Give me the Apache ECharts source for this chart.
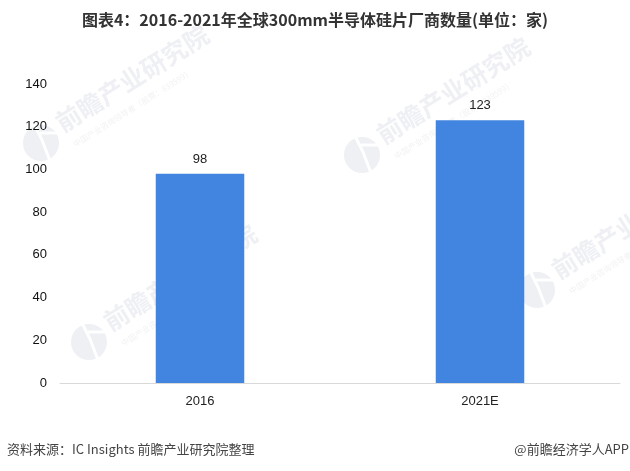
<!DOCTYPE html>
<html><head><meta charset="utf-8">
<style>html,body{margin:0;padding:0;background:#fff}#c{width:630px;height:471px}</style>
<script src="https://cdn.jsdelivr.net/npm/echarts@6/dist/echarts.min.js"></script></head>
<body><div id="c"></div>
<script>
const categories = ['2016','2021E'];
const values = [98,123];
const yTicks = {min:0,max:140,interval:20};
const titleText = '图表4：2016-2021年全球300mm半导体硅片厂商数量(单位：家)';
const sourceText = '资料来源：IC Insights 前瞻产业研究院整理';
const brandText = '@前瞻经济学人APP';
const wmMain = '前瞻产业研究院';
const wmSub = '中国产业咨询领导者（股票：839599）';
const wmCenters = [[89,342],[362,155],[41,143],[537,290]];
const rot = 0.56;
const cjk = '"Noto Sans CJK SC","Liberation Sans",sans-serif';
const latin = '"Liberation Sans",sans-serif';
function wm(p){
  const [x,y]=p;
  return [
   {type:'circle',z:0,shape:{cx:x,cy:y,r:18},style:{fill:'#eef0f4'}},
   {type:'polyline',z:0,shape:{points:[[x-7,y-19],[x+1,y-3],[x+9,y+18]]},style:{stroke:'#fff',lineWidth:3,fill:'none'}},
   {type:'line',z:0,shape:{x1:x-1,y1:y-10,x2:x+17,y2:y-10},style:{stroke:'#fff',lineWidth:3}},
   {type:'text',z:0,x:x+17,y:y-18,rotation:rot,style:{text:wmMain,font:'bold 25px '+cjk,fill:'#eef0f4',textAlign:'left',textVerticalAlign:'middle'}},
   {type:'text',z:0,x:x+33,y:y+2,rotation:rot,style:{text:wmSub,font:'8px '+cjk,fill:'#f1f2f5',textAlign:'left',textVerticalAlign:'middle'}}
  ];
}
const chart = echarts.init(document.getElementById('c'),null,{renderer:'canvas'});
chart.setOption({
  animation:false,
  backgroundColor:'#fff',
  title:{text:titleText,left:'center',top:7,textStyle:{fontFamily:cjk,fontSize:16,fontWeight:'bold',color:'#333'}},
  grid:{left:60,right:10,top:84,bottom:88},
  xAxis:{type:'category',data:categories,
    axisTick:{show:false},axisLine:{lineStyle:{color:'#d9d9d9',width:1}},
    axisLabel:{color:'#222',fontSize:13,fontFamily:latin,margin:12}},
  yAxis:{type:'value',min:yTicks.min,max:yTicks.max,interval:yTicks.interval,
    axisLine:{show:false},axisTick:{show:false},splitLine:{show:false},
    axisLabel:{color:'#111',fontSize:13,fontFamily:latin,margin:13}},
  series:[{type:'bar',data:values,barWidth:88.5,z:5,itemStyle:{color:'#4285e0'},
    label:{show:true,position:'top',distance:8,color:'#222',fontSize:13,fontFamily:latin}}],
  graphic:{elements:[
    ...wmCenters.flatMap(wm).map(e=>({...e,silent:true})),
    {type:'text',left:7,top:443,style:{text:sourceText,font:'13px '+cjk,fill:'#444'}},
    {type:'text',right:1,top:443,style:{text:brandText,font:'13px '+cjk,fill:'#444'}}
  ]}
});
</script></body></html>
